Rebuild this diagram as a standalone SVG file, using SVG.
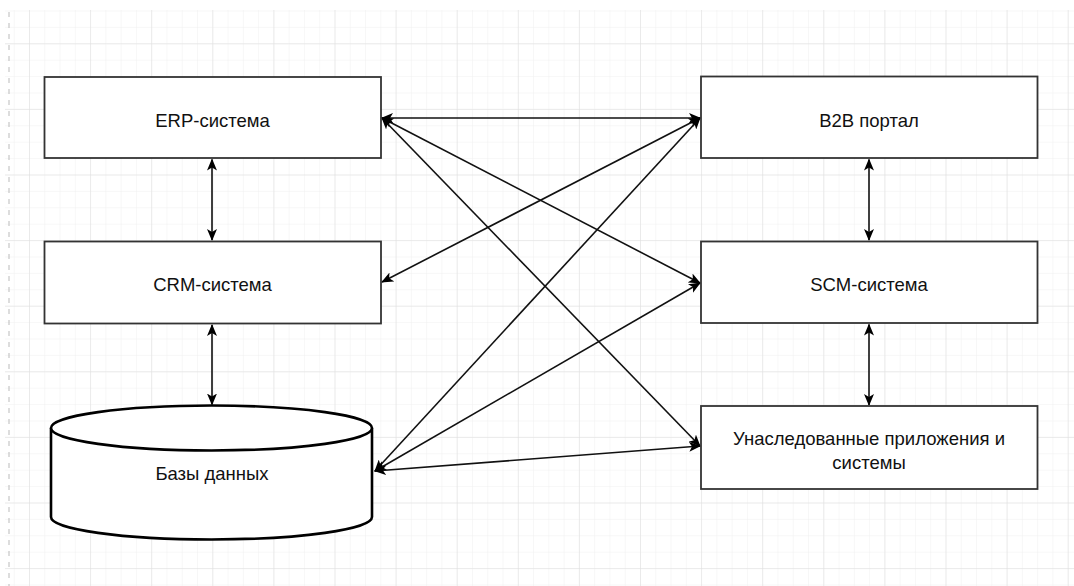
<svg xmlns="http://www.w3.org/2000/svg" width="1074" height="586" viewBox="0 0 1074 586">
  <defs>
    <pattern id="minor" patternUnits="userSpaceOnUse" x="29" y="10.5" width="15.275" height="16.4">
      <path d="M0,0 V16.4 M0,0 H15.275" fill="none" stroke="#f0f0f0" stroke-width="1"/>
    </pattern>
    <pattern id="major" patternUnits="userSpaceOnUse" x="29" y="43.3" width="61.1" height="65.6">
      <path d="M0,0 V65.6 M0,0 H61.1" fill="none" stroke="#dedede" stroke-width="1"/>
    </pattern>
    <marker id="head" viewBox="0 0 12 10" refX="11" refY="5" markerWidth="12" markerHeight="10" markerUnits="userSpaceOnUse" orient="auto-start-reverse">
      <path d="M0,0 L12,5 L0,10 L3,5 z" fill="#000"/>
    </marker>
    <style>
      .box { fill: #fff; stroke: #333; stroke-width: 1.8; }
      .db { fill: #fff; stroke: #000; stroke-width: 2.6; }
      .lbl { font-family: "Liberation Sans", Arial, sans-serif; font-size: 18.5px; fill: #111; text-anchor: middle; }
      .edge { fill: none; stroke: #111; stroke-width: 1.6; marker-start: url(#head); marker-end: url(#head); }
      .page { stroke: #bbb; stroke-width: 1; stroke-dasharray: 5 6; }
    </style>
  </defs>

  <!-- canvas background and grid -->
  <rect width="1074" height="586" fill="#fff"/>
  <rect x="5" y="10" width="1069" height="576" fill="url(#minor)"/>
  <rect x="5" y="10" width="1069" height="576" fill="url(#major)"/>
  <line class="page" x1="9" y1="12" x2="9" y2="586"/>

  <!-- connectors -->
  <g id="connectors">
    <line class="edge" x1="212" y1="159.5" x2="212" y2="240"/>
    <line class="edge" x1="212" y1="325" x2="212" y2="404.5"/>
    <line class="edge" x1="869" y1="159.5" x2="869" y2="240"/>
    <line class="edge" x1="869" y1="324.5" x2="869" y2="405"/>
    <line class="edge" x1="382" y1="118" x2="700" y2="118"/>
    <line class="edge" x1="382" y1="118" x2="700" y2="283"/>
    <line class="edge" x1="382" y1="118" x2="700" y2="446"/>
    <line class="edge" x1="700" y1="118" x2="382" y2="282"/>
    <line class="edge" x1="700" y1="118" x2="375" y2="471"/>
    <line class="edge" x1="700" y1="283" x2="375" y2="471"/>
    <line class="edge" x1="700" y1="446" x2="375" y2="471"/>
  </g>

  <g id="erp">
    <rect class="box" x="44.5" y="77" width="336.5" height="81"/>
    <text class="lbl" x="212.5" y="127">ERP-система</text>
  </g>

  <g id="crm">
    <rect class="box" x="44.5" y="241.5" width="336.5" height="82"/>
    <text class="lbl" x="212.5" y="291">CRM-система</text>
  </g>

  <g id="databases">
    <path class="db" d="M51,428 A160.5,22.5 0 0 1 372,428 V517 A160.5,22.5 0 0 1 51,517 Z"/>
    <path class="db" d="M51,428 A160.5,22.5 0 0 0 372,428"/>
    <text class="lbl" x="212" y="480">Базы данных</text>
  </g>

  <g id="b2b">
    <rect class="box" x="701" y="76.5" width="336.5" height="81.5"/>
    <text class="lbl" x="869" y="127">B2B портал</text>
  </g>

  <g id="scm">
    <rect class="box" x="701" y="241.5" width="336.5" height="81.5"/>
    <text class="lbl" x="869" y="291">SCM-система</text>
  </g>

  <g id="legacy">
    <rect class="box" x="701" y="406" width="336.5" height="83"/>
    <text class="lbl" x="869" y="445">Унаследованные приложения и</text>
    <text class="lbl" x="869" y="469">системы</text>
  </g>
</svg>
